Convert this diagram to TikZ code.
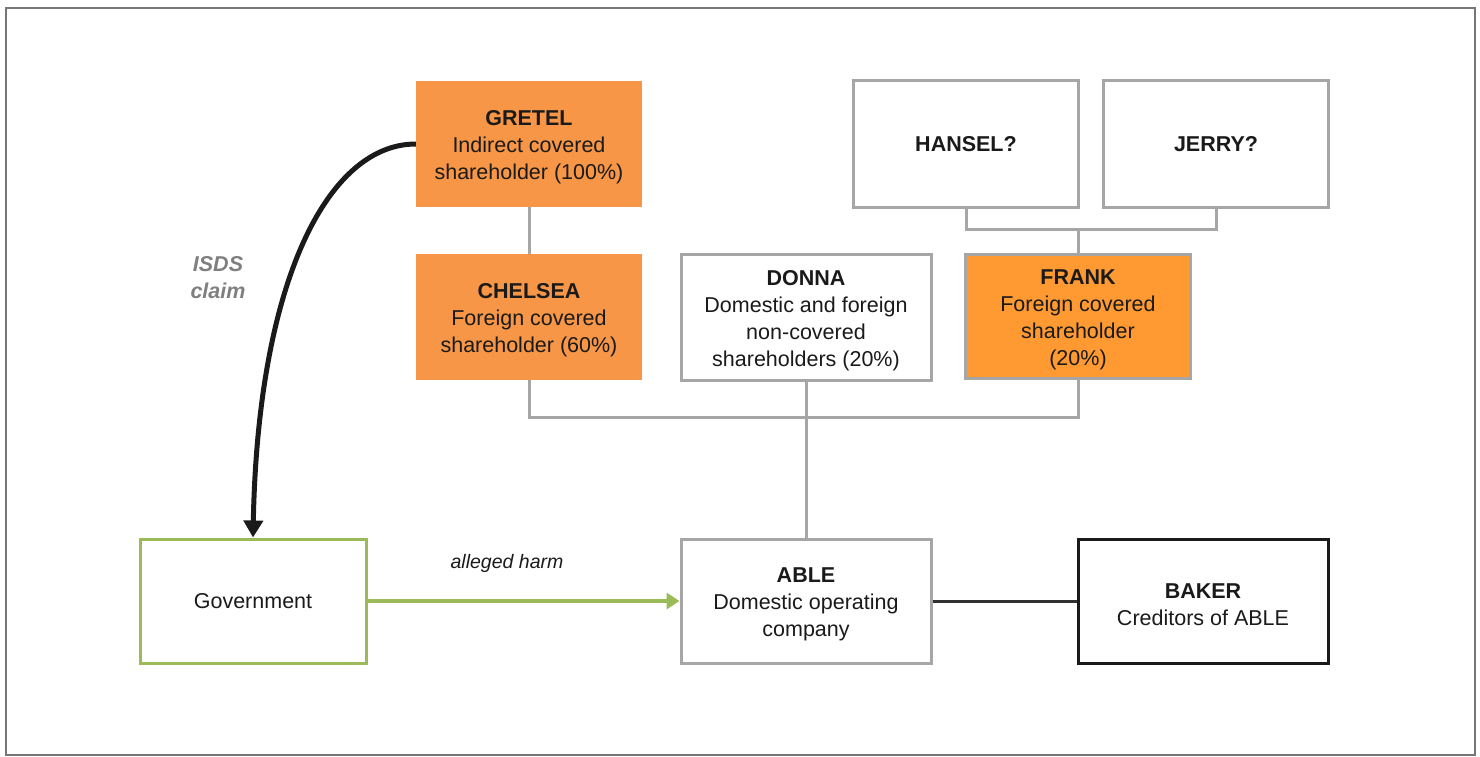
\documentclass[tikz,border=0pt]{standalone}
\usepackage{fontspec}
\setmainfont{Liberation Sans}
\usetikzlibrary{arrows.meta}
\definecolor{txt}{HTML}{1A1A1A}
\definecolor{boxgray}{HTML}{A6A6A6}
\definecolor{framegray}{HTML}{767676}
\definecolor{orangeA}{HTML}{F79646}
\definecolor{orangeB}{HTML}{FF9A33}
\definecolor{greenB}{HTML}{9BBB59}
\definecolor{labgray}{HTML}{7F7F7F}
\newcommand{\toppad}{\rule{0pt}{21.5pt}}
\tikzset{
  base/.style={rectangle, inner sep=0pt, align=center, text=txt,
    font=\fontsize{21.5}{27}\selectfont},
  orangebox/.style={base, fill=orangeA, draw=none},
  graybox/.style={base, draw=boxgray, line width=3pt, fill=white},
  frankbox/.style={base, draw=boxgray, line width=3pt, fill=orangeB},
  govbox/.style={base, draw=greenB, line width=3pt, fill=white},
  bakerbox/.style={base, draw=txt, line width=3pt, fill=white},
  link/.style={draw=boxgray, line width=3pt},
}
\begin{document}
\begin{tikzpicture}[x=1pt,y=-1pt]
\useasboundingbox (0,0) rectangle (1480,757);
\draw[framegray, line width=2.5pt] (6,8) rectangle (1475,755);

\node[orangebox, minimum width=226pt, minimum height=126pt] (gretel) at (529,144)
  {\toppad\textbf{GRETEL}\\Indirect covered\\shareholder (100\%)};
\node[orangebox, minimum width=226pt, minimum height=126pt] (chelsea) at (529,317)
  {\toppad\textbf{CHELSEA}\\Foreign covered\\shareholder (60\%)};
\node[graybox, minimum width=250pt, minimum height=126pt] (donna) at (806,317)
  {\toppad\textbf{DONNA}\\Domestic and foreign\\non-covered\\shareholders (20\%)};
\node[frankbox, minimum width=225pt, minimum height=124pt] (frank) at (1078,316)
  {\toppad\textbf{FRANK}\\Foreign covered\\shareholder\\(20\%)};
\node[graybox, minimum width=225pt, minimum height=126pt] (hansel) at (966,144)
  {\textbf{HANSEL?}};
\node[graybox, minimum width=225pt, minimum height=126pt] (jerry) at (1216,144)
  {\textbf{JERRY?}};
\node[govbox, minimum width=226pt, minimum height=124pt] (gov) at (253,601)
  {Government};
\node[graybox, minimum width=250pt, minimum height=124pt] (able) at (806,601)
  {\toppad\textbf{ABLE}\\Domestic operating\\company};
\node[bakerbox, minimum width=250pt, minimum height=124pt] (baker) at (1203,601)
  {\toppad\textbf{BAKER}\\Creditors of ABLE};

\coordinate (hj) at (1078,229);
\coordinate (bus) at (806,417);

% connectors
\draw[link] (gretel.south) -- (chelsea.north);
\draw[link] (hansel.south) |- (hj) -| (jerry.south);
\draw[link] (hj) -- (frank.north);
\draw[link] (chelsea.south) |- (bus) -| (frank.south);
\draw[link] (donna.south) -- (able.north);
\draw[txt!90, line width=3pt] (able.east) -- (baker.west);
\draw[greenB, line width=4pt, -{Triangle[length=13pt,width=16pt]}] (gov.east) -- (able.west);
\draw[txt, line width=5pt, -{Triangle[length=17pt,width=19pt]}]
  (gretel.west) .. controls +(-87,0) and +(5,-259) .. (gov.north);

\node[font=\fontsize{21.5}{27}\selectfont\bfseries\itshape, text=labgray, align=center] (isds) at (218,278) {ISDS\\claim};
\node[font=\fontsize{19.5}{24}\selectfont\itshape, text=txt] (harm) at (507,563) {alleged harm};
\end{tikzpicture}
\end{document}
